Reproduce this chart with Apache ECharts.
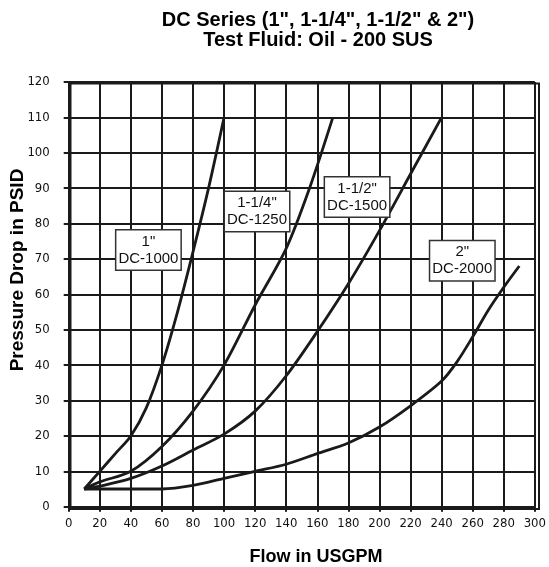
<!DOCTYPE html>
<html>
<head>
<meta charset="utf-8">
<script src="https://cdn.jsdelivr.net/npm/echarts@6/dist/echarts.min.js"></script>
<style>
html,body{margin:0;padding:0;background:#fff;}
#c{width:549px;height:567px;}
</style>
</head>
<body>
<div id="c"></div>
<script>
// Data (flow USGPM, pressure drop PSID)
const seriesNames = ['1" DC-1000', '1-1/4" DC-1250', '1-1/2" DC-1500', '2" DC-2000'];
const flow1000 = [10, 20, 30, 40, 50, 60, 70, 80, 90, 100];
const dp1000   = [5, 10, 15, 20, 28, 40, 55, 72, 90, 110];
const flow1250 = [10, 20, 40, 60, 80, 100, 120, 140, 155, 170];
const dp1250   = [5, 7, 10, 17, 27, 40, 57, 73, 90, 110];
const flow1500 = [10, 20, 40, 60, 80, 100, 120, 140, 160, 180, 200, 220, 240];
const dp1500   = [5, 5.8, 8, 11.5, 16, 20.5, 27, 37, 49.5, 63, 78, 94, 110];
const flow2000 = [10, 40, 60, 80, 100, 120, 140, 160, 180, 200, 220, 240, 250, 260, 270, 280, 290];
const dp2000   = [5, 5, 5, 6, 8, 10, 12, 15, 18, 22.5, 28.5, 35.5, 41, 48, 55.5, 62, 68];
// Curve labels and their anchor points (in data coordinates)
const labelTexts = ['1"\nDC-1000', '1-1/4"\nDC-1250', '1-1/2"\nDC-1500', '2"\nDC-2000'];
const labelX = [51.3, 121.2, 185.6, 253.3];
const labelY = [72.5, 83.4, 87.5, 69.5];
// Axis ticks
const xTicks = [0, 20, 40, 60, 80, 100, 120, 140, 160, 180, 200, 220, 240, 260, 280, 300];
const yTicks = [0, 10, 20, 30, 40, 50, 60, 70, 80, 90, 100, 110, 120];

const flows = [flow1000, flow1250, flow1500, flow2000];
const dps = [dp1000, dp1250, dp1500, dp2000];

const chart = echarts.init(document.getElementById('c'), null, {renderer: 'canvas'});
const tickFont = '"Liberation Sans Narrow", "DejaVu Sans Condensed", sans-serif';
const boldFont = 'bold 18px "Liberation Sans", Arial, sans-serif';
const titleFont = 'bold 20px "Liberation Sans", Arial, sans-serif';

const series = flows.map((f, i) => ({
  name: seriesNames[i],
  type: 'line',
  data: f.map((x, j) => [x, dps[i][j]]),
  smooth: 0.3,
  symbol: 'none',
  lineStyle: {color: '#1a1a1a', width: 2.8},
  z: 3,
  markPoint: {
    symbol: 'rect',
    symbolSize: 0,
    silent: true,
    data: [{
      coord: [labelX[i], labelY[i]],
      label: {
        show: true,
        position: 'inside',
        formatter: labelTexts[i],
        color: '#111',
        fontFamily: 'Liberation Sans, Arial, sans-serif',
        fontSize: 15,
        lineHeight: 17,
        align: 'center',
        verticalAlign: 'middle',
        backgroundColor: '#fff',
        borderColor: '#333',
        borderWidth: 1.5,
        padding: [3, 3, 2, 3],
        width: 58
      }
    }]
  }
}));

chart.setOption({
  animation: false,
  backgroundColor: '#fff',
  grid: {left: 68.7, right: 12.5, top: 82, bottom: 60.3, containLabel: false},
  xAxis: {
    type: 'value', min: 0, max: 300, interval: 20,
    axisLine: {show: true, lineStyle: {color: '#1a1a1a', width: 2}},
    axisTick: {show: true, length: 5, lineStyle: {color: '#1a1a1a', width: 2}},
    axisLabel: {color: '#111', fontSize: 13, fontFamily: tickFont, margin: 10,
      formatter: v => xTicks.includes(v) ? String(v) : ''},
    splitLine: {show: true, lineStyle: {color: '#1a1a1a', width: 2}}
  },
  yAxis: {
    type: 'value', min: 0, max: 120, interval: 10,
    axisLine: {show: true, lineStyle: {color: '#1a1a1a', width: 2}},
    axisTick: {show: true, length: 5, lineStyle: {color: '#1a1a1a', width: 2}},
    axisLabel: {color: '#111', fontSize: 13, fontFamily: tickFont, margin: 19,
      formatter: v => yTicks.includes(v) ? String(v) : ''},
    splitLine: {show: true, lineStyle: {color: '#1a1a1a', width: 2}}
  },
  graphic: [
    {type: 'rect', left: 68, top: 81, shape: {width: 468.5, height: 425.5}, style: {fill: 'none', stroke: '#1a1a1a', lineWidth: 2}, z: 10, silent: true},
    {type: 'text', x: 318, y: 20,
     style: {text: 'DC Series (1", 1-1/4", 1-1/2" & 2")', fill: '#000', font: titleFont, align: 'center', verticalAlign: 'middle'}},
    {type: 'text', x: 318, y: 40,
     style: {text: 'Test Fluid: Oil - 200 SUS', fill: '#000', font: titleFont, align: 'center', verticalAlign: 'middle'}},
    {type: 'text', x: 316, y: 557, style: {text: 'Flow in USGPM', fill: '#000', font: boldFont, align: 'center', verticalAlign: 'middle'}},
    {type: 'text', x: 18, y: 270, rotation: Math.PI / 2, style: {text: 'Pressure Drop in PSID', fill: '#000', font: 'bold 19px "Liberation Sans", Arial, sans-serif', align: 'center', verticalAlign: 'middle'}}
  ],
  series: series
});
</script>
</body>
</html>
